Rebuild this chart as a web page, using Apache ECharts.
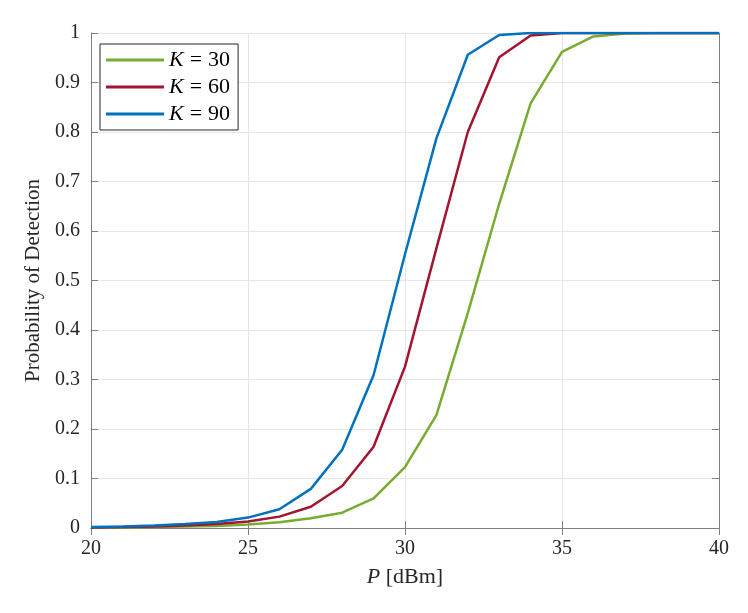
<!DOCTYPE html>
<html><head><meta charset="utf-8">
<script src="https://cdn.jsdelivr.net/npm/echarts@6/dist/echarts.min.js"></script>
<style>html,body{margin:0;padding:0;background:#fff}#c{width:748px;height:613px}</style>
</head><body><div id="c"></div>
<script>
const pValues = [20,21,22,23,24,25,26,27,28,29,30,31,32,33,34,35,36,37,38,39,40];
const k30 = [0.001,0.001,0.002,0.003,0.004,0.007,0.0115,0.0195,0.031,0.060,0.123,0.228,0.434,0.655,0.858,0.962,0.993,0.999,1,1,1];
const k60 = [0.001,0.002,0.003,0.005,0.008,0.013,0.023,0.043,0.085,0.164,0.326,0.565,0.800,0.951,0.995,1,1,1,1,1,1];
const k90 = [0.002,0.003,0.005,0.008,0.012,0.021,0.038,0.079,0.158,0.309,0.553,0.787,0.956,0.996,1,1,1,1,1,1,1];
const seriesNames = ['K30','K60','K90'];
const legendNums = {K30:'30',K60:'60',K90:'90'};
const colors = ['#77AC30','#A2142F','#0072BD'];
const xTicks = [20,25,30,35,40];

const font = 'Liberation Serif';
const axisGray = '#808080';
function pairs(ys){return pValues.map((x,i)=>[x,ys[i]]);}
const chart = echarts.init(document.getElementById('c'));
chart.setOption({
  animation:false,
  grid:{left:91,right:29,top:33,bottom:85},
  legend:{
    left:100, top:44, orient:'vertical',
    backgroundColor:'#fff', borderColor:'#262626', borderWidth:1,
    padding:[5,8,5,6], itemGap:5, itemWidth:58, itemHeight:3, icon:'rect',
    data:seriesNames,
    formatter:n=>'{k|K}{e|=}{n|'+legendNums[n]+'}',
    textStyle:{fontFamily:font,fontSize:22,color:'#000',
      rich:{k:{fontStyle:'italic',fontFamily:font,fontSize:22},
            e:{fontFamily:font,fontSize:22,padding:[0,6,0,6]},
            n:{fontFamily:font,fontSize:22}}}
  },
  xAxis:[{
    type:'value',min:20,max:40,interval:5,
    name:'{i|P} [dBm]',nameLocation:'middle',nameGap:38,
    nameTextStyle:{fontFamily:font,fontSize:22,color:'#262626',rich:{i:{fontStyle:'italic',fontFamily:font,fontSize:22}}},
    axisLine:{lineStyle:{color:axisGray,width:1}},
    axisTick:{inside:true,length:7,lineStyle:{color:axisGray}},
    axisLabel:{fontFamily:font,fontSize:20,color:'#262626',margin:11},
    splitLine:{show:true,lineStyle:{color:'#e6e6e6'}}
  },{
    type:'value',min:20,max:40,interval:5,position:'top',
    axisLine:{show:true,lineStyle:{color:axisGray}},
    axisTick:{inside:true,length:7,lineStyle:{color:axisGray}},
    axisLabel:{show:false},splitLine:{show:false}
  }],
  yAxis:[{
    type:'value',min:0,max:1,interval:0.1,
    name:'Probability of Detection',nameLocation:'middle',nameGap:46,
    nameTextStyle:{fontFamily:font,fontSize:21,color:'#262626'},
    axisLine:{show:true,lineStyle:{color:axisGray}},
    axisTick:{show:true,inside:true,length:7,lineStyle:{color:axisGray}},
    axisLabel:{fontFamily:font,fontSize:20,color:'#262626',margin:11,formatter:v=>String(Math.round(v*10)/10)},
    splitLine:{show:true,lineStyle:{color:'#e6e6e6'}}
  },{
    type:'value',min:0,max:1,interval:0.1,position:'right',
    axisLine:{show:true,lineStyle:{color:axisGray}},
    axisTick:{show:true,inside:true,length:7,lineStyle:{color:axisGray}},
    axisLabel:{show:false},splitLine:{show:false}
  }],
  series:[k30,k60,k90].map((d,i)=>({
    name:seriesNames[i],type:'line',data:pairs(d),
    showSymbol:false,symbol:'none',
    lineStyle:{color:colors[i],width:2.5},itemStyle:{color:colors[i]}
  }))
});
</script></body></html>
